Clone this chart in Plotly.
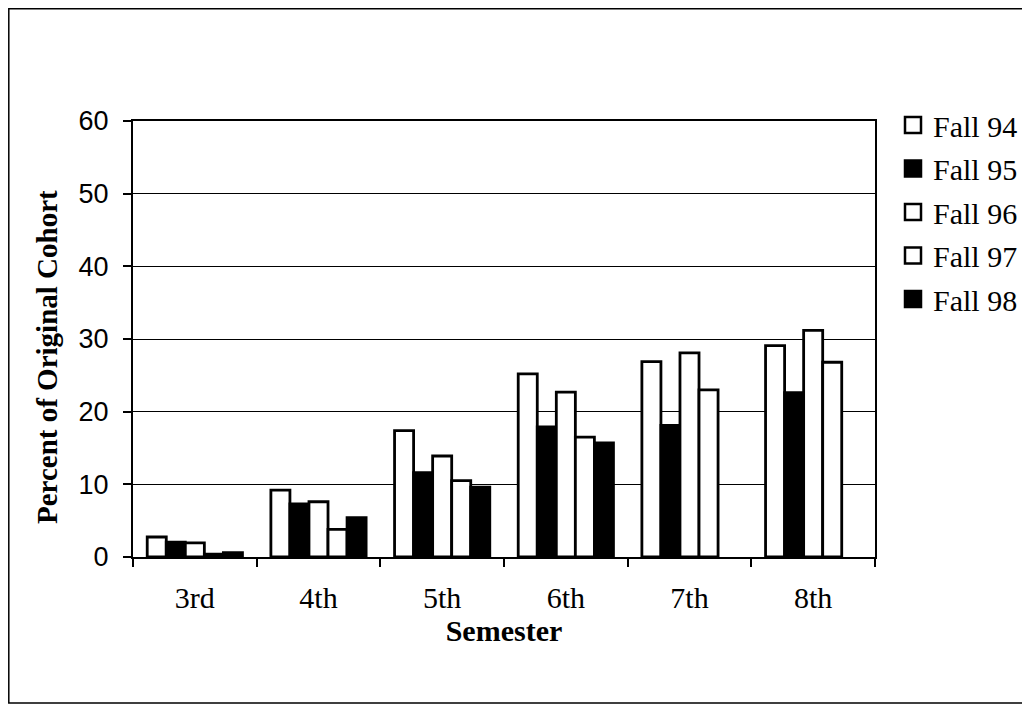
import plotly.graph_objects as go

semesters = ["3rd", "4th", "5th", "6th", "7th", "8th"]
fall94 = [2.75, 9.2, 17.4, 25.2, 26.9, 29.1]
fall95 = [2.05, 7.3, 11.6, 17.9, 18.1, 22.6]
fall96 = [1.95, 7.6, 13.9, 22.7, 28.1, 31.2]
fall97 = [0.4, 3.8, 10.5, 16.5, 23.0, 26.8]
fall98 = [0.6, 5.4, 9.6, 15.7, None, None]

series = [
    ("Fall 94", fall94, "white"),
    ("Fall 95", fall95, "black"),
    ("Fall 96", fall96, "white"),
    ("Fall 97", fall97, "white"),
    ("Fall 98", fall98, "black"),
]

serif = "Liberation Serif"
sans = "Liberation Sans"

fig = go.Figure()
for i, (name, vals, col) in enumerate(series):
    fig.add_trace(go.Bar(
        x=semesters, y=vals, name=name,
        marker=dict(color=col, line=dict(color="black", width=2.8)),
        legendgroup=f"g{i}", showlegend=False,
    ))
    # legend entry with a larger square swatch
    fig.add_trace(go.Scatter(
        x=[None], y=[None], mode="markers", name=name,
        marker=dict(symbol="square", size=16, color=col, line=dict(color="black", width=2.5)),
        legendgroup=f"g{i}", showlegend=True,
    ))

# page body has an 8px margin; figure coords = screen - 8
W, H = 1022, 696
L, R, T, B = 125, 155, 113, 147
pw, ph = W - L - R, H - T - B

def px_x(x):
    return (x - L) / pw

def px_y(y):
    return (H - B - y) / ph

fig.update_layout(
    width=W, height=H,
    margin=dict(l=L, r=R, t=T, b=B, autoexpand=False),
    paper_bgcolor="white", plot_bgcolor="white",
    barmode="group", bargap=0.23, bargroupgap=0,
    showlegend=True,
    legend=dict(
        xref="container", yref="container",
        x=885 / W, y=1 - 91 / H, xanchor="left", yanchor="top",
        font=dict(family=serif, size=30, color="black"),
        tracegroupgap=1.5, itemwidth=30, itemsizing="trace",
        bgcolor="rgba(0,0,0,0)",
    ),
    xaxis=dict(
        tickson="boundaries", ticks="outside", ticklen=8, tickcolor="black", tickwidth=1.5,
        showline=True, linecolor="black", linewidth=2, mirror=True,
        tickfont=dict(family=serif, size=30, color="black"),
        ticklabelstandoff=13,
        title=dict(text="<b>Semester</b>", font=dict(family=serif, size=30, color="black"), standoff=3),
        showgrid=False,
    ),
    yaxis=dict(
        range=[0, 60], dtick=10, ticks="outside", ticklen=8, tickcolor="black", tickwidth=1.5,
        showline=True, linecolor="black", linewidth=2, mirror=True,
        showgrid=True, gridcolor="black", gridwidth=1,
        tickfont=dict(family=sans, size=27, color="black"),
        ticklabelstandoff=9,
        zeroline=False,
    ),
    annotations=[dict(
        text="<b>Percent of Original Cohort</b>", textangle=-90,
        xref="paper", yref="paper", x=px_x(39), y=px_y(349),
        xanchor="center", yanchor="middle", showarrow=False,
        font=dict(family=serif, size=29, color="black"),
    )],
    shapes=[dict(
        type="rect", xref="paper", yref="paper",
        x0=px_x(0.8), x1=px_x(1020), y0=px_y(695), y1=px_y(0.8),
        line=dict(color="black", width=1.5), fillcolor="rgba(0,0,0,0)", layer="below",
    )],
)

fig.write_html("out.html")
